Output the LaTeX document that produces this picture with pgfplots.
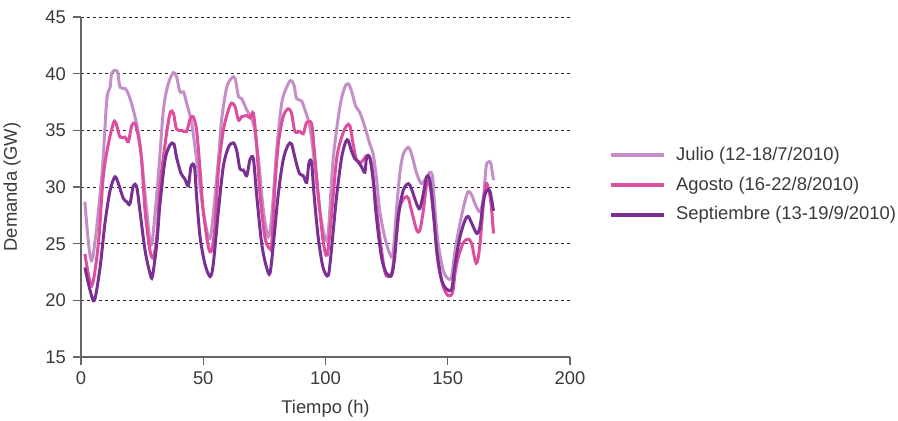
\documentclass[border=0pt]{standalone}
\usepackage{pgfplots}
\pgfplotsset{compat=1.18}
\usepackage{fontspec}
\setmainfont{Liberation Sans}
\definecolor{julio}{HTML}{C38FC6}
\definecolor{agosto}{HTML}{DD4E9F}
\definecolor{sept}{HTML}{7A3093}
\definecolor{txt}{HTML}{3A3A3A}
\begin{document}
\begin{tikzpicture}
\begin{axis}[
  name=ax,
  scale only axis, width=244.5pt, height=170pt,
  xmin=0, xmax=200, ymin=15, ymax=45,
  xtick={0,50,...,200}, ytick={15,20,...,45},
  axis x line*=bottom, axis y line*=left,
  axis line style={-, draw=black!60, line width=0.6pt},
  tick style={draw=black!60, line width=0.6pt},
  major tick length=4pt, tick align=outside,
  ymajorgrids,
  grid style={dash pattern=on 1.5pt off 1.5pt, black!85, line width=0.5pt},
  /pgf/number format/assume math mode=true,
  ticklabel style={font=\fontsize{9.2}{10}\selectfont, text=txt},
  label style={font=\fontsize{9.2}{10}\selectfont, text=txt},
  xlabel={Tiempo (h)}, ylabel={Demanda (GW)},
  xlabel style={at={(axis description cs:0.5,-0.152)}, anchor=center},
  ylabel style={at={(axis description cs:-0.141,0.5)}, anchor=center},
  legend style={at={(1.066,0.506)}, anchor=west, draw=none, fill=none,
    font=\fontsize{9.2}{10}\selectfont, text=txt, row sep=2.6pt},
  legend cell align=left,
  legend image code/.code={\draw[#1, line width=2pt] (0pt,0pt) -- (26.5pt,0pt); \path (30pt,0pt);},
  every axis plot/.append style={line width=1.5pt, smooth, tension=0.5, no markers},
]
\addplot[julio] coordinates {
(1.6,28.7) (4.4,23.5) (8.5,30.9) (10.5,37.6) (11.9,38.8) (12.5,40) (13.9,40.3) (15,40.1) (16,38.8) (18,38.7) (19.4,38.2) (21.4,36.8) (23.5,34.7) (24.8,32.4) (26.9,27.9) (28.2,25.3) (29.2,25.3) (31.6,30.9) (33.7,36.8) (35.7,39.1) (37.8,40.1) (39.1,39.7) (40.5,38.4) (41.9,38.4) (43.2,37.4) (45.3,35.6) (47.3,32.4) (50,27.9) (52.1,25.6) (53.4,26.2) (56.2,32.4) (57.5,35.9) (59.6,38.8) (61.6,39.6) (63,39.6) (64.4,38) (65.7,37.8) (67.8,36.8) (70.5,35.6) (72.6,32.4) (74.6,27.9) (76.6,25.6) (78,27.4) (80,33.2) (82.1,37.4) (84.1,38.8) (85.7,39.4) (87.1,39) (88.2,37.8) (90.2,37.6) (91.6,36.8) (93.6,35.3) (95.7,31.8) (97.7,27.9) (99.7,25.6) (101.1,25.9) (103.1,32.4) (105.9,37.1) (107.9,38.8) (109.3,39.1) (110.6,38.5) (112.4,37.1) (114,36.6) (116.1,35.3) (118.1,33.8) (119.5,32.9) (120.8,30.9) (122.2,27.9) (124.2,25.6) (126.3,24.1) (127.6,24.1) (129,27.9) (130.4,31.2) (131.8,32.9) (133.9,33.5) (135.2,32.9) (137.3,31.2) (139.3,30.3) (141.4,30.9) (142.7,31.3) (143.8,30.9) (144.8,27.9) (146.1,25) (148.2,22.6) (150.2,21.9) (151.6,22.1) (153,24.4) (155,26.8) (157.1,28.8) (158.4,29.6) (159.8,29.3) (161.2,28.5) (163.2,27.8) (164.6,29.1) (165.7,31.8) (166.6,32.2) (167.6,32.1) (168.7,30.6)
};
\addlegendentry{Julio (12-18/7/2010)}
\addplot[agosto] coordinates {
(1.6,24.1) (4.4,21.3) (7.1,25) (9.1,30.9) (11.2,33.8) (13.2,35.6) (14.2,35.7) (16,34.4) (18,34.4) (19.4,34) (20.7,35.4) (22.1,35.6) (23.5,34.4) (24.8,32.4) (26.2,27.9) (28.2,24.4) (29.6,23.8) (31,25.6) (32.3,30) (34.4,33.8) (36.4,36.5) (37.8,36.5) (39.1,35.1) (41.2,35) (43.2,34.9) (44.6,36) (45.9,36.2) (47.3,35) (48.7,31.5) (50,27.9) (52.1,24.7) (53.4,24.4) (54.8,26.5) (56.2,31.5) (58.2,35) (60.3,36.8) (61.6,37.4) (63,37.1) (64.4,35.9) (65.7,36.2) (67.8,36.3) (69.1,36.1) (70.5,36.5) (71.8,33.8) (73.2,29.4) (75.2,25.6) (77,24.6) (78,25) (79.3,30) (80.7,33.8) (82.7,36.2) (84.7,36.9) (86.1,36.5) (87.5,34.9) (89.5,34.9) (90.9,34.7) (92.3,35.7) (94.3,35.6) (95.3,33.5) (97,29.4) (99,25.3) (100.7,24) (102.4,27.4) (104.5,32.4) (106.6,34.4) (108.6,35.4) (110,35.4) (111.3,33.8) (112.7,32.4) (114.7,32.2) (116.1,32.6) (117.4,32.8) (118.8,32.1) (120.2,29.4) (122.2,25.6) (124.2,22.6) (125.6,22.1) (127.3,22.6) (129,25.6) (130.4,28.2) (132.5,29.1) (133.9,29) (135.2,27.9) (137.3,26.2) (138.6,26.2) (140,27.9) (141.4,30.3) (142.5,30.3) (143.4,29.1) (144.8,26.2) (146.1,23.2) (148.2,21.2) (150.2,20.4) (152,20.7) (153,22.4) (154.3,23.8) (156.4,25.1) (158.4,25.4) (159.8,25) (161.2,23.5) (162.1,23.4) (163.2,25) (164.6,28.5) (165.7,30.3) (167,29.6) (168,27.9) (168.7,25.9)
};
\addlegendentry{Agosto (16-22/8/2010)}
\addplot[sept] coordinates {
(1.6,22.9) (3.7,20.9) (5.5,20) (7.8,22.9) (9.8,26.8) (11.9,29.7) (13.9,30.9) (15.3,30.3) (17.3,29) (18.7,28.7) (20,28.5) (21.4,30.1) (22.8,30) (24.1,27.9) (26.2,24.4) (28.2,22.4) (29.2,22.1) (31,25) (32.3,28.5) (34.4,32.4) (36.4,33.7) (38,33.8) (39.1,32.6) (40.9,31.2) (42.5,30.7) (43.9,30.1) (45,31.8) (46.4,31.8) (47.3,29.1) (48.7,25.6) (50.7,23.2) (52.8,22.1) (54.1,23.2) (56.2,27.9) (58.2,31.8) (60.3,33.5) (62.3,33.9) (63.7,33.2) (65,31.6) (66.4,31.5) (67.8,31) (69.1,32.4) (70.5,32.5) (71.8,29.4) (73.9,25) (75.9,22.9) (77.3,22.4) (78.7,25) (80.7,29.4) (82.7,32.4) (84.7,33.7) (86.1,33.8) (87.5,32.6) (89.3,31.2) (90.9,31) (92.3,30.4) (93.2,32.1) (94.3,32.2) (95.3,29.4) (97,25.6) (99,22.9) (101.1,22.2) (102.4,24.4) (104.5,29.1) (106.6,32.6) (108.3,34) (109.3,34.1) (110.6,33.2) (112,32.5) (113.4,32.2) (114.7,31.8) (116.1,31.3) (116.8,32.6) (118.1,32.6) (119.5,30.6) (120.8,27.4) (122.9,23.8) (124.9,22.4) (127,22.2) (128.3,23.8) (129.7,27.4) (131.8,29.7) (133.9,30.3) (135.2,29.8) (137.3,28.5) (138.6,28.1) (140,29.4) (141.4,30.9) (142.7,30.6) (144.1,27.9) (145.5,24.4) (147.5,21.8) (149.5,21) (151.6,21) (153,23.2) (155,25.6) (157.1,27.1) (158.4,27.4) (159.8,26.8) (161.9,25.9) (163.2,26.5) (164.6,28.8) (166,29.7) (167.3,29.6) (168.7,27.9)
};
\addlegendentry{Septiembre (13-19/9/2010)}
\end{axis}
\pgfresetboundingbox
\path ([shift={(-40.5pt,-31.5pt)}]ax.south west) rectangle ++(449pt,210pt);
\end{tikzpicture}
\end{document}
